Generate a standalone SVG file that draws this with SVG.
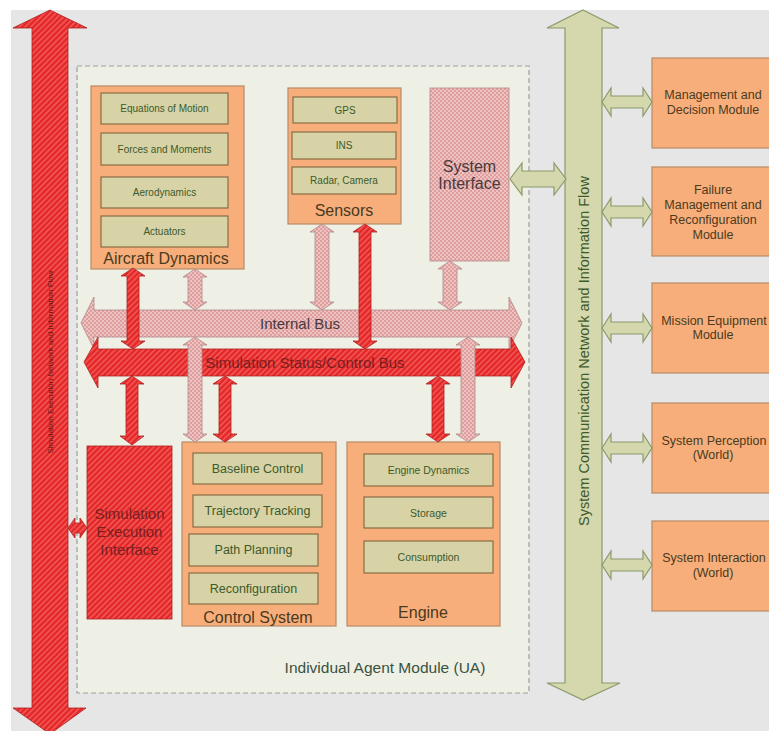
<svg xmlns="http://www.w3.org/2000/svg" width="769" height="731" viewBox="0 0 769 731">
<defs>
<pattern id="redHatch" patternUnits="userSpaceOnUse" width="4" height="4" patternTransform="rotate(45)">
<rect width="4" height="4" fill="#e32626"/>
<rect width="1.5" height="4" fill="#f45c5c"/>
</pattern>
<pattern id="pinkHatch" patternUnits="userSpaceOnUse" width="4" height="4">
<rect width="4" height="4" fill="#efc2c2"/>
<rect width="2" height="2" fill="#de9e9e"/>
<rect x="2" y="2" width="2" height="2" fill="#de9e9e"/>
</pattern>
<style>
text{font-family:'Liberation Sans',Arial,sans-serif;text-anchor:middle;dominant-baseline:central}
.org{fill:#f7ae7a;stroke:#b88a66;stroke-width:1.2}
.inner{fill:#d7d3a6;stroke:#8a6d44;stroke-width:1.2}
.it{fill:#3d5a2c}
.lbl{font-size:16px;fill:#4a3a1e}
.red{fill:url(#redHatch);stroke:#b02020;stroke-width:0.8}
.pink{fill:url(#pinkHatch);stroke:#b08888;stroke-width:0.8}
.khaki{fill:#d5d7ad;stroke:#8a9a6c;stroke-width:1.2}
.mod{font-size:12.5px;fill:#4a3a1e}
</style>
</defs>
<rect width="769" height="731" fill="#ffffff"/>
<rect x="11" y="10" width="758" height="721" fill="#e6e6e6"/>

<g id="container">
<rect x="77" y="66" width="452" height="627" fill="#eef0e6" stroke="#9aa098" stroke-width="1.2" stroke-dasharray="5,3"/>
<text x="385" y="667" style="font-size:15.5px;fill:#3a5040">Individual Agent Module (UA)</text>
</g>

<g id="sim-exec-network">
<polygon class="red" points="50,10 87,28 68,28 68,708 86,708 50,734 13,708 32,708 32,28 13,28"/>
<text transform="translate(50,362) rotate(-90)" style="font-size:8px;fill:#6a1515">Simulation Execution Network and Information Flow</text>
</g>

<g id="comm-network">
<polygon class="khaki" points="583,10 619,28 602,28 602,683 620,683 583,700 547,683 565,683 565,28 547,28"/>
<text transform="translate(584,351) rotate(-90)" style="font-size:14.5px;fill:#3d5a2c">System Communication Network and Information Flow</text>
</g>

<g id="aircraft-dynamics">
<rect class="org" x="91" y="86" width="153" height="183"/>
<rect class="inner" x="101" y="93" width="127" height="31"/>
<text class="it" x="164.5" y="108.5" font-size="10">Equations of Motion</text>
<rect class="inner" x="101" y="133" width="127" height="32"/>
<text class="it" x="164.5" y="149" font-size="10">Forces and Moments</text>
<rect class="inner" x="101" y="177" width="127" height="31"/>
<text class="it" x="164.5" y="192.5" font-size="10">Aerodynamics</text>
<rect class="inner" x="101" y="216" width="127" height="31"/>
<text class="it" x="164.5" y="231.5" font-size="10">Actuators</text>
<text class="lbl" x="166" y="258">Aircraft Dynamics</text>
</g>

<g id="sensors">
<rect class="org" x="288" y="88" width="113" height="136"/>
<rect class="inner" x="293" y="97" width="104" height="26"/>
<text class="it" x="345" y="110" font-size="10">GPS</text>
<rect class="inner" x="292" y="132" width="104" height="27"/>
<text class="it" x="344" y="145.5" font-size="10">INS</text>
<rect class="inner" x="292" y="167" width="104" height="27"/>
<text class="it" x="344" y="180.5" font-size="10">Radar, Camera</text>
<text class="lbl" x="344" y="210">Sensors</text>
</g>

<g id="system-interface">
<rect class="pink" x="430" y="88" width="79" height="173"/>
<text x="469.5" y="166" style="font-size:16px;fill:#4a3a3a">System</text>
<text x="469.5" y="183" style="font-size:16px;fill:#4a3a3a">Interface</text>
</g>

<g id="sim-exec-interface">
<rect class="red" x="87" y="446" width="85" height="173"/>
<text x="129.5" y="513" style="font-size:15px;fill:#7a2020">Simulation</text>
<text x="129.5" y="531" style="font-size:15px;fill:#7a2020">Execution</text>
<text x="129.5" y="549" style="font-size:15px;fill:#7a2020">Interface</text>
</g>

<g id="control-system">
<rect class="org" x="182" y="442" width="154" height="184"/>
<rect class="inner" x="193" y="453" width="129" height="31"/>
<text class="it" x="257.5" y="468.5" font-size="12.5">Baseline Control</text>
<rect class="inner" x="193" y="495" width="129" height="32"/>
<text class="it" x="257.5" y="511" font-size="12.5">Trajectory Tracking</text>
<rect class="inner" x="189" y="534" width="129" height="32"/>
<text class="it" x="253.5" y="550" font-size="12.5">Path Planning</text>
<rect class="inner" x="189" y="573" width="129" height="31"/>
<text class="it" x="253.5" y="588.5" font-size="12.5">Reconfiguration</text>
<text class="lbl" x="258" y="617">Control System</text>
</g>

<g id="engine">
<rect class="org" x="347" y="442" width="153" height="184"/>
<rect class="inner" x="364" y="454" width="129" height="32"/>
<text class="it" x="428.5" y="470" font-size="10.5">Engine Dynamics</text>
<rect class="inner" x="364" y="497" width="129" height="31"/>
<text class="it" x="428.5" y="512.5" font-size="10.5">Storage</text>
<rect class="inner" x="364" y="541" width="129" height="32"/>
<text class="it" x="428.5" y="557" font-size="10.5">Consumption</text>
<text class="lbl" x="423" y="612">Engine</text>
</g>

<g id="management-decision">
<rect class="org" x="652" y="58" width="118" height="90"/>
<text class="mod" x="713" y="95">Management and</text>
<text class="mod" x="713" y="110">Decision Module</text>
</g>
<g id="failure-management">
<rect class="org" x="652" y="167" width="118" height="89"/>
<text class="mod" x="713" y="190">Failure</text>
<text class="mod" x="713" y="205">Management and</text>
<text class="mod" x="713" y="220">Reconfiguration</text>
<text class="mod" x="713" y="235">Module</text>
</g>
<g id="mission-equipment">
<rect class="org" x="652" y="283" width="118" height="90"/>
<text class="mod" x="714" y="321">Mission Equipment</text>
<text class="mod" x="713" y="335">Module</text>
</g>
<g id="system-perception">
<rect class="org" x="652" y="403" width="118" height="90"/>
<text class="mod" x="714" y="441">System Perception</text>
<text class="mod" x="713" y="455">(World)</text>
</g>
<g id="system-interaction">
<rect class="org" x="652" y="521" width="118" height="90"/>
<text class="mod" x="714" y="558">System Interaction</text>
<text class="mod" x="713" y="573">(World)</text>
</g>

<g id="connectors">
<polygon class="pink" points="81,323 94,297 94,310 509,310 509,297 522,323 509,349 509,337 94,337 94,349"/>
<text x="300" y="323" style="font-size:15px;fill:#4a3a3a">Internal Bus</text>
<polygon class="pink" points="195,269 207,277 202,277 202,302 207,302 195,310 183,302 188,302 188,277 183,277"/>
<polygon class="pink" points="322,224 334,232 329,232 329,302 334,302 322,310 310,302 315,302 315,232 310,232"/>
<polygon class="pink" points="450,261 462,269 457,269 457,302 462,302 450,310 438,302 443,302 443,269 438,269"/>
<polygon class="red" points="133,268 145,276 139,276 139,341 145,341 133,349 121,341 127,341 127,276 121,276"/>
<polygon class="red" points="365,224 377,232 371,232 371,341 377,341 365,349 353,341 359,341 359,232 353,232"/>
<polygon class="red" points="84,362 98,337 98,349 511,349 511,337 525,362 511,388 511,376 98,376 98,388"/>
<text x="305" y="362" style="font-size:15px;fill:#7a1e1e">Simulation Status/Control Bus</text>
<polygon class="red" points="132,376 144,384 138,384 138,436 144,436 132,445 120,436 126,436 126,384 120,384"/>
<polygon class="pink" points="195,337 207,345 202,345 202,434 207,434 195,442 183,434 188,434 188,345 183,345"/>
<polygon class="red" points="225,376 237,384 231,384 231,434 237,434 225,442 213,434 219,434 219,384 213,384"/>
<polygon class="red" points="438,376 450,384 444,384 444,434 450,434 438,442 426,434 432,434 432,384 426,384"/>
<polygon class="pink" points="468,337 480,345 475,345 475,434 480,434 468,442 456,434 461,434 461,345 456,345"/>
<polygon class="red" points="68,528 75,518 75,523 80,523 80,518 87,528 80,538 80,533 75,533 75,538"/>
<polygon class="khaki" points="510,179 522,163 522,171 554,171 554,163 566,179 554,195 554,187 522,187 522,195"/>
<polygon class="khaki" points="602,102 611,88 611,96 643,96 643,88 652,102 643,116 643,108 611,108 611,116"/>
<polygon class="khaki" points="602,212 611,198 611,206 643,206 643,198 652,212 643,226 643,218 611,218 611,226"/>
<polygon class="khaki" points="602,328 611,314 611,322 643,322 643,314 652,328 643,342 643,334 611,334 611,342"/>
<polygon class="khaki" points="602,448 611,434 611,442 643,442 643,434 652,448 643,462 643,454 611,454 611,462"/>
<polygon class="khaki" points="602,565 611,551 611,559 643,559 643,551 652,565 643,579 643,571 611,571 611,579"/>
</g>
</svg>
